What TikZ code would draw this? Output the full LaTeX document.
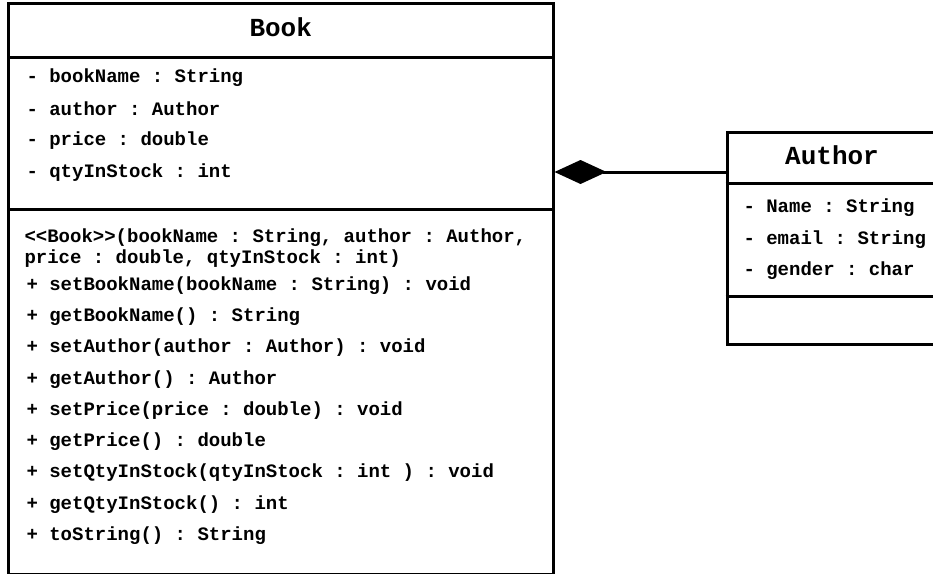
\documentclass[tikz,border=0pt]{standalone}
\usepackage{fontspec}
\setmonofont{Liberation Mono}
\usetikzlibrary{arrows.meta}

\begin{document}
\begin{tikzpicture}[x=1pt, y=-1pt, line width=3pt,
		classbox/.style={draw, line width=3pt, inner sep=0pt},
		member/.style={anchor=west, inner sep=0pt, font=\ttfamily\bfseries\fontsize{19}{21}\selectfont},
		classname/.style={inner sep=0pt, font=\ttfamily\bfseries\fontsize{26}{28}\selectfont}]
				\useasboundingbox (0,0) rectangle (933,573);

				% Draw the Book box
				\node[classbox, minimum width=544.5pt, minimum height=571pt] (book) at (280.75,288.5) {};
				\node[classname] (booktitle) at (280.75,27) {Book};
				\draw (book.west |- 0,57) -- (book.east |- 0,57);
				\draw (book.west |- 0,209) -- (book.east |- 0,209);

				% Book attributes
				\node[member] (battr1) at (25,78) {- bookName : String};
				\node[member] (battr2) at (25,109) {- author : Author};
				\node[member] (battr3) at (25,141) {- price : double};
				\node[member] (battr4) at (25,173) {- qtyInStock : int};

				% Book methods
				\node[member, align=left] (bctor) at (23,248) {<<Book>>(bookName : String, author : Author,\\price : double, qtyInStock : int)};
				\node[member] (bop1) at (25,286) {+ setBookName(bookName : String) : void};
				\node[member] (bop2) at (25,317) {+ getBookName() : String};
				\node[member] (bop3) at (25,348) {+ setAuthor(author : Author) : void};
				\node[member] (bop4) at (25,380) {+ getAuthor() : Author};
				\node[member] (bop5) at (25,411) {+ setPrice(price : double) : void};
				\node[member] (bop6) at (25,442) {+ getPrice() : double};
				\node[member] (bop7) at (25,473) {+ setQtyInStock(qtyInStock : int ) : void};
				\node[member] (bop8) at (25,505) {+ getQtyInStock() : int};
				\node[member] (bop9) at (25,536) {+ toString() : String};

				% Draw the Author box
				\node[classbox, minimum width=210pt, minimum height=212pt] (author) at (832,238) {};
				\node[classname] (authortitle) at (832,155) {Author};
				\draw (author.west |- 0,183) -- (author.east |- 0,183);
				\draw (author.west |- 0,296) -- (author.east |- 0,296);

				% Author attributes
				\node[member] (aattr1) at (742,208) {- Name : String};
				\node[member] (aattr2) at (742,240) {- email : String};
				\node[member] (aattr3) at (742,271) {- gender : char};

				% Composition
				\coordinate (bookend) at (book.east |- 0,172);
				\coordinate (authorend) at (author.west |- 0,172);
				\draw[{Diamond[length=52pt, width=24pt]}-] (bookend) -- (authorend);
			\end{tikzpicture}
\end{document}
